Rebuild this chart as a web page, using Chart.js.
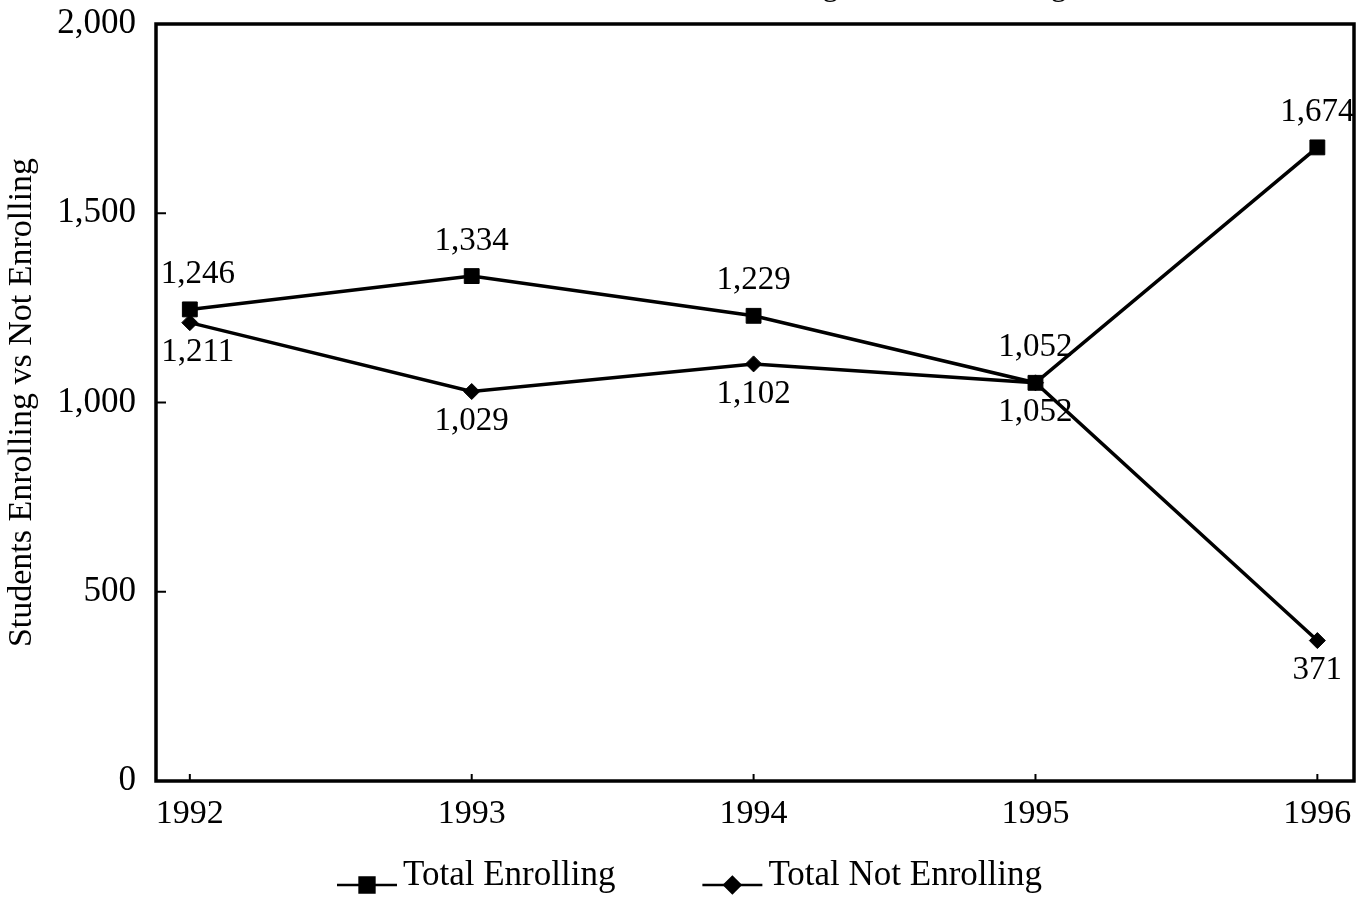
<!DOCTYPE html>
<html>
<head>
<meta charset="utf-8">
<script src="https://cdn.jsdelivr.net/npm/chart.js@4.4.0/dist/chart.umd.min.js"></script>
<style>
  html, body { margin: 0; padding: 0; background: #fff; }
</style>
</head>
<body>
<canvas id="chart" width="1371" height="906"></canvas>
<script>
/* ==================== Data ==================== */
const years = [1992, 1993, 1994, 1995, 1996];
const totalEnrolling = [1246, 1334, 1229, 1052, 1674];
const totalNotEnrolling = [1211, 1029, 1102, 1052, 371];
const yTickValues = [0, 500, 1000, 1500, 2000];
const seriesNames = ['Total Enrolling', 'Total Not Enrolling'];
const titleText = 'Students Enrolling vs Not Enrolling';

const FONT = '"Liberation Serif", "Times New Roman", serif';
const fmt = v => v.toLocaleString('en-US');

/* ==================== Plugins ==================== */
// frame + inward tick marks
const framePlugin = {
    id: 'frame',
    afterDraw(chart) {
        const { ctx, chartArea: a, scales } = chart;
        ctx.save();
        ctx.strokeStyle = '#000';
        ctx.lineWidth = 2;
        yTickValues.forEach(v => {
            const y = scales.y.getPixelForValue(v);
            ctx.beginPath();
            ctx.moveTo(a.left, y);
            ctx.lineTo(a.left + 10, y);
            ctx.stroke();
        });
        years.forEach(v => {
            const x = scales.x.getPixelForValue(v);
            ctx.beginPath();
            ctx.moveTo(x, a.bottom);
            ctx.lineTo(x, a.bottom - 7);
            ctx.stroke();
        });
        ctx.lineWidth = 3.5;
        ctx.strokeRect(a.left, a.top, a.right - a.left, a.bottom - a.top);
        ctx.restore();
    }
};

// value labels above / below points
const valueLabels = {
    id: 'valueLabels',
    afterDatasetsDraw(chart) {
        const ctx = chart.ctx;
        ctx.save();
        ctx.font = '33px ' + FONT;
        ctx.fillStyle = '#000';
        ctx.textAlign = 'center';
        ctx.textBaseline = 'middle';
        chart.data.datasets.forEach((ds, i) => {
            const meta = chart.getDatasetMeta(i);
            meta.data.forEach((pt, j) => {
                const dy = i === 0 ? -35 : 30;
                const dx = j === 0 ? 8 : 0;
                ctx.fillText(fmt(ds.data[j].y), pt.x + dx, pt.y + dy);
            });
        });
        ctx.restore();
    }
};

// legend with line + marker, drawn at the bottom
const lineLegend = {
    id: 'lineLegend',
    afterDraw(chart) {
        const ctx = chart.ctx;
        const a = chart.chartArea;
        ctx.save();
        ctx.font = '35px ' + FONT;
        ctx.fillStyle = '#000';
        ctx.strokeStyle = '#000';
        ctx.textBaseline = 'alphabetic';
        const lineLen = 60, gapText = 6, gapItem = 87;
        const items = chart.data.datasets.map(ds => ({ ds, w: ctx.measureText(ds.label).width }));
        const total = items.reduce((s, it) => s + lineLen + gapText + it.w, 0) + gapItem * (items.length - 1);
        let x = chart.width / 2 - total / 2 + 4;
        const yText = a.bottom + 104;
        items.forEach(({ ds, w }) => {
            const yLine = yText;
            ctx.lineWidth = 2.5;
            ctx.beginPath();
            ctx.moveTo(x, yLine);
            ctx.lineTo(x + lineLen, yLine);
            ctx.stroke();
            Chart.helpers.drawPoint(ctx, {
                pointStyle: ds.pointStyle,
                radius: ds.pointRadius,
                rotation: 0,
                borderWidth: 1
            }, x + lineLen / 2, yLine);
            ctx.fill();
            ctx.fillText(ds.label, x + lineLen + gapText, yText);
            x += lineLen + gapText + w + gapItem;
        });
        ctx.restore();
    }
};

// title sits above the canvas edge, only descenders are visible
const cutTitle = {
    id: 'cutTitle',
    afterDraw(chart) {
        const ctx = chart.ctx;
        ctx.save();
        ctx.font = '33px ' + FONT;
        ctx.fillStyle = '#000';
        ctx.textAlign = 'right';
        ctx.textBaseline = 'alphabetic';
        ctx.fillText(titleText, 1067, -5);
        ctx.restore();
    }
};

/* ==================== Chart ==================== */
const toPoints = vals => years.map((yr, i) => ({ x: yr, y: vals[i] }));

new Chart(document.getElementById('chart'), {
    type: 'line',
    data: {
        datasets: [
            {
                label: seriesNames[0],
                data: toPoints(totalEnrolling),
                borderColor: '#000',
                backgroundColor: '#000',
                borderWidth: 3.5,
                pointStyle: 'rect',
                pointRadius: 10.5,
                pointBorderWidth: 1,
                tension: 0
            },
            {
                label: seriesNames[1],
                data: toPoints(totalNotEnrolling),
                borderColor: '#000',
                backgroundColor: '#000',
                borderWidth: 3.5,
                pointStyle: 'rectRot',
                pointRadius: 8,
                pointBorderWidth: 1,
                tension: 0
            }
        ]
    },
    options: {
        responsive: false,
        animation: false,
        devicePixelRatio: 1,
        layout: { padding: { top: 24, right: 17, left: 0, bottom: 0 } },
        plugins: {
            legend: { display: false },
            tooltip: { enabled: false },
            title: { display: false }
        },
        scales: {
            x: {
                type: 'linear',
                min: 1991.88,
                max: 1996.13,
                grid: { display: false, drawTicks: false },
                border: { display: false },
                afterBuildTicks: scale => { scale.ticks = years.map(v => ({ value: v })); },
                afterFit: scale => {
                    scale.height = 125;
                    scale.paddingLeft = 0;
                    scale.paddingRight = 0;
                },
                ticks: {
                    color: '#000',
                    font: { family: FONT, size: 34 },
                    padding: 13,
                    maxRotation: 0,
                    callback: v => String(v)
                }
            },
            y: {
                min: 0,
                max: 2000,
                grid: { display: false, drawTicks: false },
                border: { display: false },
                afterBuildTicks: scale => { scale.ticks = yTickValues.map(v => ({ value: v })); },
                afterFit: scale => {
                    scale.width = 156;
                    scale.paddingTop = 0;
                    scale.paddingBottom = 0;
                },
                title: {
                    display: true,
                    text: 'Students Enrolling vs Not Enrolling',
                    color: '#000',
                    font: { family: FONT, size: 34 },
                    padding: { top: 2, bottom: 2 }
                },
                ticks: {
                    color: '#000',
                    font: { family: FONT, size: 35 },
                    padding: 20,
                    callback: v => fmt(v)
                }
            }
        }
    },
    plugins: [framePlugin, valueLabels, lineLegend, cutTitle]
});
</script>
</body>
</html>
